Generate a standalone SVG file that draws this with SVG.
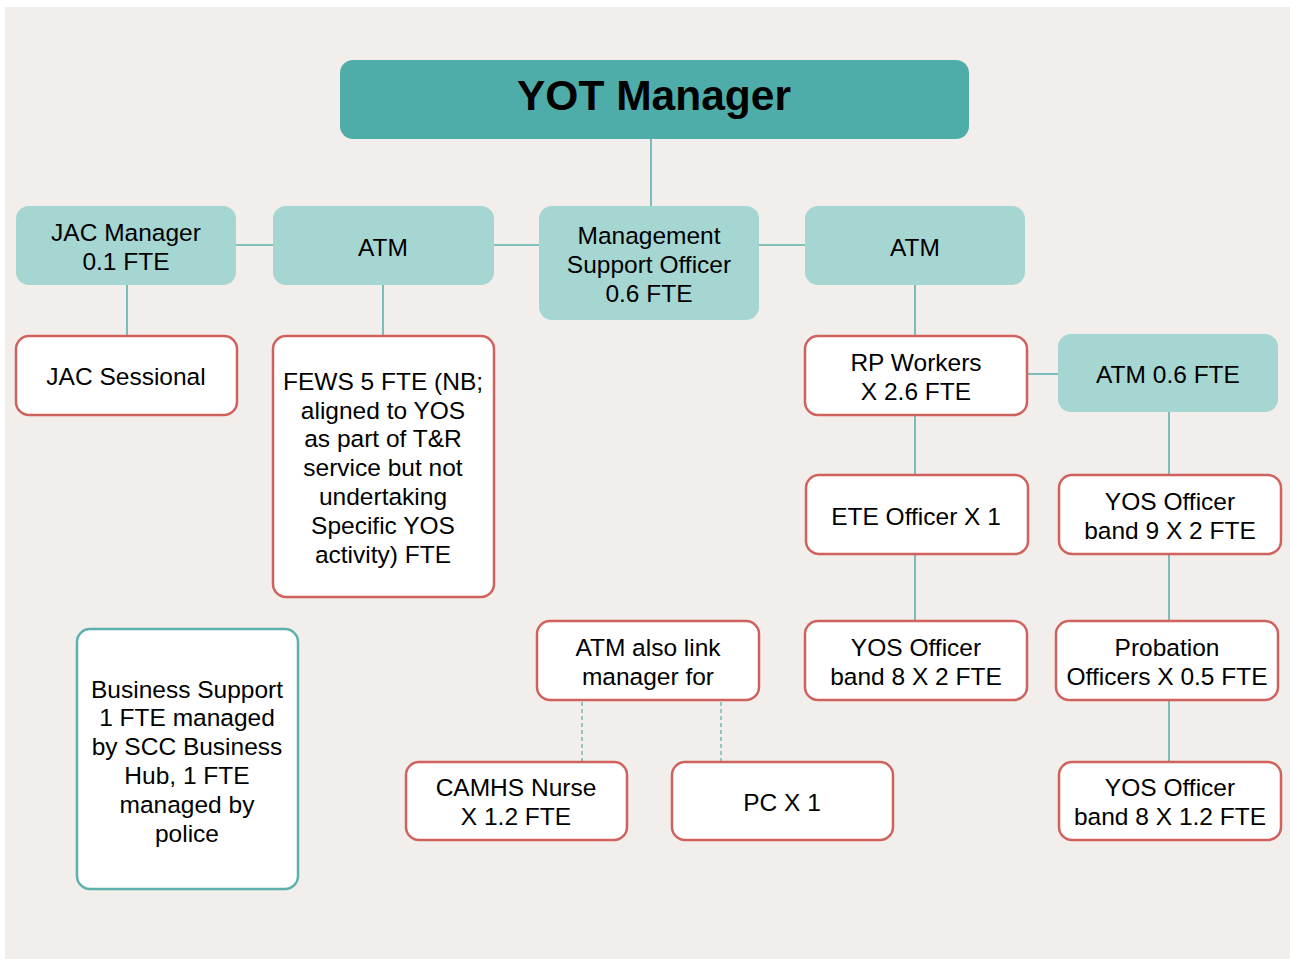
<svg xmlns="http://www.w3.org/2000/svg" width="1290" height="959" viewBox="0 0 1290 959">
<style>
text{font-family:"Liberation Sans",Arial,Helvetica,sans-serif;font-size:24.5px;fill:#000;text-anchor:middle}
.title{font-size:42.5px;font-weight:bold}
.top{fill:#4fada9}
.mid{fill:#a6d6d2}
.red{fill:#fff;stroke:#d0625d;stroke-width:2.5}
.tealb{fill:#fff;stroke:#5cb1ad;stroke-width:2.5}
.ln{stroke:#5cb1ad;stroke-width:1.6;fill:none}
.dash{stroke:#5cb1ad;stroke-width:1.3;fill:none;stroke-dasharray:4 3}
</style>
<rect x="0" y="0" width="1290" height="959" fill="#ffffff"/>
<rect x="5" y="7" width="1285" height="952" fill="#f2eeeb"/>
<g id="connectors">
<line class="ln" x1="651" y1="139" x2="651" y2="206"/>
<line class="ln" x1="236" y1="245" x2="273" y2="245"/>
<line class="ln" x1="494" y1="245" x2="539" y2="245"/>
<line class="ln" x1="759" y1="245" x2="805" y2="245"/>
<line class="ln" x1="127" y1="285" x2="127" y2="336"/>
<line class="ln" x1="383" y1="285" x2="383" y2="336"/>
<line class="ln" x1="915" y1="285" x2="915" y2="336"/>
<line class="ln" x1="1027" y1="374" x2="1058" y2="374"/>
<line class="ln" x1="915" y1="415" x2="915" y2="475"/>
<line class="ln" x1="915" y1="554" x2="915" y2="621"/>
<line class="ln" x1="1169" y1="412" x2="1169" y2="475"/>
<line class="ln" x1="1169" y1="554" x2="1169" y2="621"/>
<line class="ln" x1="1169" y1="700" x2="1169" y2="762"/>
<line class="dash" x1="582" y1="702" x2="582" y2="761"/>
<line class="dash" x1="721" y1="702" x2="721" y2="761"/>
</g>
<g id="yot-manager"><rect class="top" x="340" y="60" width="629" height="79" rx="13"/><text class="title" x="654" y="110">YOT Manager</text></g>
<g id="jac-manager"><rect class="mid" x="16" y="206" width="220" height="79" rx="13"/><text x="126" y="241">JAC Manager</text><text x="126" y="270">0.1 FTE</text></g>
<g id="atm-left"><rect class="mid" x="273" y="206" width="221" height="79" rx="13"/><text x="383" y="256">ATM</text></g>
<g id="mso"><rect class="mid" x="539" y="206" width="220" height="114" rx="13"/><text x="649" y="244">Management</text><text x="649" y="273">Support Officer</text><text x="649" y="302">0.6 FTE</text></g>
<g id="atm-right"><rect class="mid" x="805" y="206" width="220" height="79" rx="13"/><text x="915" y="256">ATM</text></g>
<g id="jac-sessional"><rect class="red" x="16" y="336" width="221" height="79" rx="13"/><text x="126" y="385">JAC Sessional</text></g>
<g id="fews"><rect class="red" x="273" y="336" width="221" height="261" rx="13"/>
<text x="383" y="390">FEWS 5 FTE (NB;</text><text x="383" y="419">aligned to YOS</text><text x="383" y="447">as part of T&amp;R</text><text x="383" y="476">service but not</text><text x="383" y="505">undertaking</text><text x="383" y="534">Specific YOS</text><text x="383" y="563">activity) FTE</text></g>
<g id="rp-workers"><rect class="red" x="805" y="336" width="222" height="79" rx="13"/><text x="916" y="371">RP Workers</text><text x="916" y="400">X 2.6 FTE</text></g>
<g id="atm-06"><rect class="mid" x="1058" y="334" width="220" height="78" rx="13"/><text x="1168" y="383">ATM 0.6 FTE</text></g>
<g id="ete-officer"><rect class="red" x="806" y="475" width="222" height="79" rx="13"/><text x="916" y="525">ETE Officer X 1</text></g>
<g id="yos-b9"><rect class="red" x="1059" y="475" width="222" height="79" rx="13"/><text x="1170" y="510">YOS Officer</text><text x="1170" y="539">band 9 X 2 FTE</text></g>
<g id="atm-link"><rect class="red" x="537" y="621" width="222" height="79" rx="13"/><text x="648" y="656">ATM also link</text><text x="648" y="685">manager for</text></g>
<g id="yos-b8-2"><rect class="red" x="805" y="621" width="222" height="79" rx="13"/><text x="916" y="656">YOS Officer</text><text x="916" y="685">band 8 X 2 FTE</text></g>
<g id="probation"><rect class="red" x="1056" y="621" width="222" height="79" rx="13"/><text x="1167" y="656">Probation</text><text x="1167" y="685">Officers X 0.5 FTE</text></g>
<g id="business-support"><rect class="tealb" x="77" y="629" width="221" height="260" rx="13"/>
<text x="187" y="698">Business Support</text><text x="187" y="726">1 FTE managed</text><text x="187" y="755">by SCC Business</text><text x="187" y="784">Hub, 1 FTE</text><text x="187" y="813">managed by</text><text x="187" y="842">police</text></g>
<g id="camhs"><rect class="red" x="406" y="762" width="221" height="78" rx="13"/><text x="516" y="796">CAMHS Nurse</text><text x="516" y="825">X 1.2 FTE</text></g>
<g id="pc"><rect class="red" x="672" y="762" width="221" height="78" rx="13"/><text x="782" y="811">PC X 1</text></g>
<g id="yos-b8-12"><rect class="red" x="1059" y="762" width="222" height="78" rx="13"/><text x="1170" y="796">YOS Officer</text><text x="1170" y="825">band 8 X 1.2 FTE</text></g>
</svg>
